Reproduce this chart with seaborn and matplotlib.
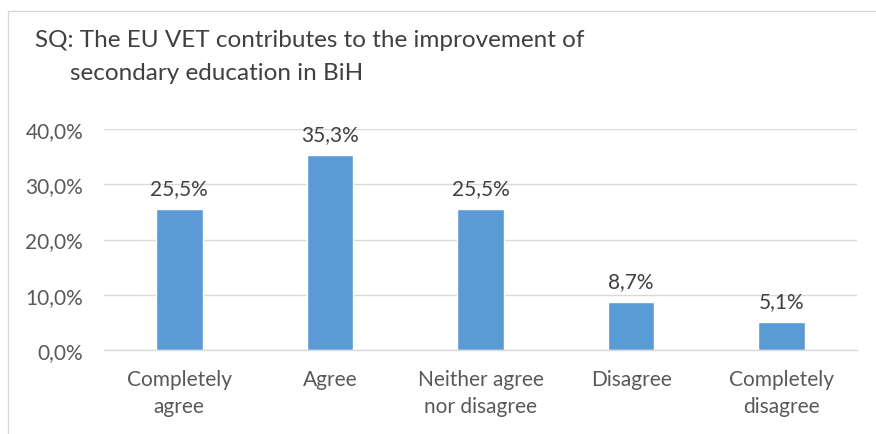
import matplotlib
matplotlib.use("Agg")
import matplotlib.pyplot as plt
import seaborn as sns
import pandas as pd
from matplotlib.lines import Line2D

categories = ["Completely\nagree", "Agree", "Neither agree\nnor disagree", "Disagree", "Completely\ndisagree"]
values = [25.5, 35.3, 25.5, 8.7, 5.1]
yticks = [0, 10, 20, 30, 40]
title_line1 = "SQ: The EU VET contributes to the improvement of"
title_line2 = "secondary education in BiH"

sns.set_theme(style="white")
plt.rcParams['font.family'] = ['Lato', 'DejaVu Sans']

W, H = 876, 435
fig = plt.figure(figsize=(W/100, H/100), dpi=100)
ax = fig.add_axes([104/W, 1-351/H, (857-104)/W, (351-130)/H])

df = pd.DataFrame({"cat": categories, "val": values})
sns.barplot(data=df, x="cat", y="val", color="#5B9BD5", width=0.31, ax=ax, saturation=1)

fs = 15
ax.set_ylim(0, 40)
ax.set_xlim(-0.5, 4.5)
ax.set_yticks(yticks)
ax.set_yticklabels([f"{v:.1f}%".replace(".", ",") for v in yticks], fontsize=fs, color="#595959")
ax.tick_params(axis='x', labelsize=fs, colors="#595959", length=0, pad=14)
ax.tick_params(axis='y', length=0, pad=15)
for lbl in ax.get_xticklabels():
    lbl.set_linespacing(1.4)
ax.set_xlabel("")
ax.set_ylabel("")
ax.yaxis.grid(True, color="#D9D9D9", linewidth=1)
ax.set_axisbelow(True)
for s in ["top", "right", "left"]:
    ax.spines[s].set_visible(False)
ax.spines["bottom"].set_color("#D9D9D9")
ax.spines["bottom"].set_linewidth(1)

for i, v in enumerate(values):
    ax.annotate(f"{v:.1f}%".replace(".", ","), (i, v), xytext=(0, 8), textcoords="offset points",
                ha="center", va="bottom", fontsize=fs, color="#404040")

fig.text(35/W, 1-47/H, title_line1, fontsize=17.5, color="#404040", ha="left", va="baseline")
fig.text(70/W, 1-80/H, title_line2, fontsize=17.5, color="#404040", ha="left", va="baseline")

# chart frame
fig.add_artist(Line2D([8/W, 8/W], [0, 1-12/H], transform=fig.transFigure, color="#D9D9D9", lw=1))
fig.add_artist(Line2D([8/W, 1], [1-12/H, 1-12/H], transform=fig.transFigure, color="#D9D9D9", lw=1))

fig.savefig("out.png", dpi=100)
